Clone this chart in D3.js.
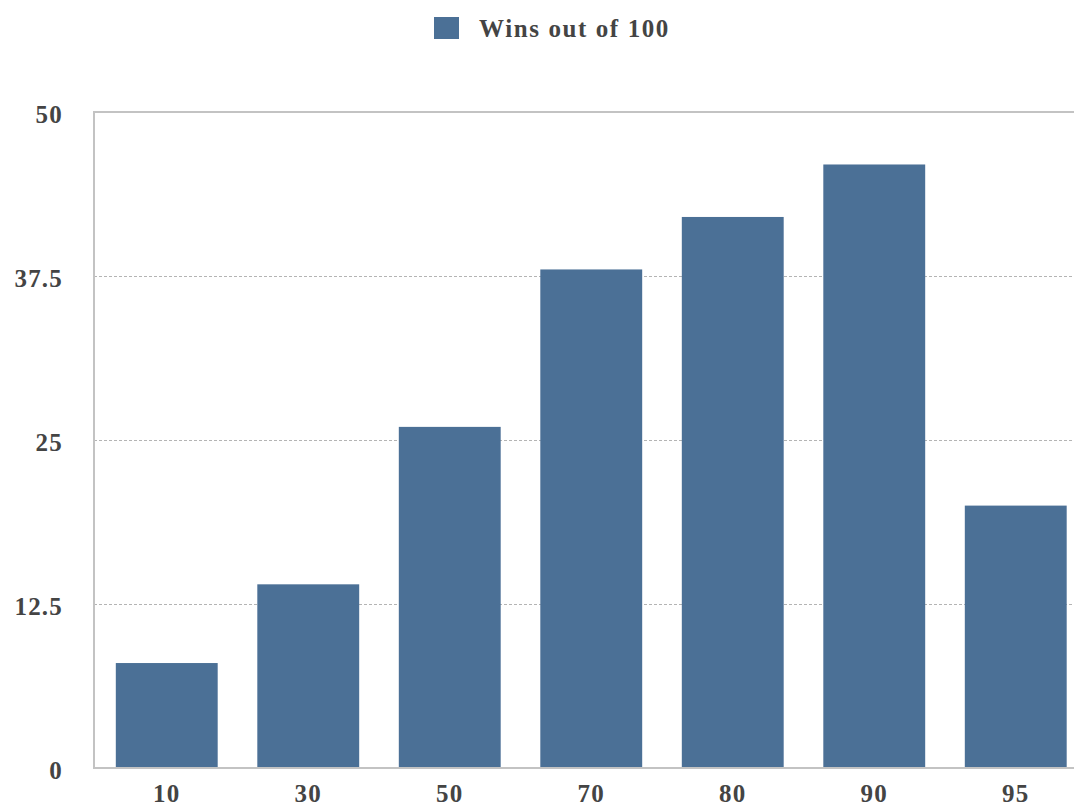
<!DOCTYPE html>
<html>
<head>
<meta charset="utf-8">
<script src="https://cdn.jsdelivr.net/npm/d3@7"></script>
<style>
  html, body { margin: 0; padding: 0; background: #fff; }
  svg { display: block; }
  text { font-family: "Liberation Serif", "Times New Roman", serif; font-weight: bold; fill: #444; }
</style>
</head>
<body>
<svg id="chart" width="1074" height="808"></svg>
<script>
const categories = ["10", "30", "50", "70", "80", "90", "95"];
const winsValues = [8, 14, 26, 38, 42, 46, 20];
const yTickValues = [0, 12.5, 25, 37.5, 50];
const yTickLabels = ["0", "12.5", "25", "37.5", "50"];
const seriesName = "Wins out of 100";

const svg = d3.select("#chart");
const W = 1074;
const plotLeft = 94, plotTop = 112, plotBottom = 768;

const x = d3.scaleBand()
  .domain(categories)
  .range([96, 1086.5])
  .paddingInner(0.28)
  .paddingOuter(0.14);

const y = d3.scaleLinear()
  .domain([0, 50])
  .range([plotBottom, plotTop]);

const barColor = "#4b7096";

// gridlines (dashed) for interior ticks
svg.append("g")
  .selectAll("line")
  .data(yTickValues.filter(v => v > 0 && v < 50))
  .join("line")
  .attr("x1", plotLeft)
  .attr("x2", W)
  .attr("y1", d => y(d) + 0.5)
  .attr("y2", d => y(d) + 0.5)
  .attr("stroke", "#b4b4b4")
  .attr("stroke-width", 1)
  .attr("stroke-dasharray", "3,2");

// bars
svg.append("g")
  .selectAll("rect")
  .data(categories.map((c, i) => ({ c, v: winsValues[i] })))
  .join("rect")
  .attr("x", d => x(d.c))
  .attr("width", x.bandwidth())
  .attr("y", d => y(d.v))
  .attr("height", d => y(0) - y(d.v))
  .attr("fill", barColor);

// frame lines: top, left, bottom
const lineColor = "#c3c3c3";
svg.append("line").attr("x1", plotLeft).attr("x2", W).attr("y1", plotTop).attr("y2", plotTop)
  .attr("stroke", lineColor).attr("stroke-width", 2);
svg.append("line").attr("x1", plotLeft).attr("x2", W).attr("y1", plotBottom).attr("y2", plotBottom)
  .attr("stroke", lineColor).attr("stroke-width", 2);
svg.append("line").attr("x1", plotLeft).attr("x2", plotLeft).attr("y1", plotTop - 1).attr("y2", plotBottom + 1)
  .attr("stroke", lineColor).attr("stroke-width", 2);

// y axis labels
const yAxis = d3.axisLeft(y)
  .tickValues(yTickValues)
  .tickFormat((d, i) => yTickLabels[i])
  .tickSize(0)
  .tickPadding(0);
const gy = svg.append("g").attr("transform", "translate(63,2)").call(yAxis);
gy.select(".domain").remove();
gy.selectAll("text")
  .attr("font-size", 25)
  .attr("letter-spacing", "1.2px")
  .attr("font-family", "Liberation Serif, serif")
  .attr("font-weight", "bold")
  .attr("fill", "#444");

// x axis labels
const xAxis = d3.axisBottom(x).tickSize(0).tickPadding(0);
const gx = svg.append("g").attr("transform", `translate(0,${plotBottom + 16})`).call(xAxis);
gx.select(".domain").remove();
gx.selectAll("text")
  .attr("font-size", 25)
  .attr("letter-spacing", "1.2px")
  .attr("font-family", "Liberation Serif, serif")
  .attr("font-weight", "bold")
  .attr("fill", "#444");

// legend
const legend = svg.append("g");
legend.append("rect")
  .attr("x", 434).attr("y", 17).attr("width", 25).attr("height", 22)
  .attr("fill", barColor);
legend.append("text")
  .attr("x", 479).attr("y", 37)
  .attr("font-size", 25)
  .attr("letter-spacing", "1.6px")
  .text(seriesName);
</script>
</body>
</html>
